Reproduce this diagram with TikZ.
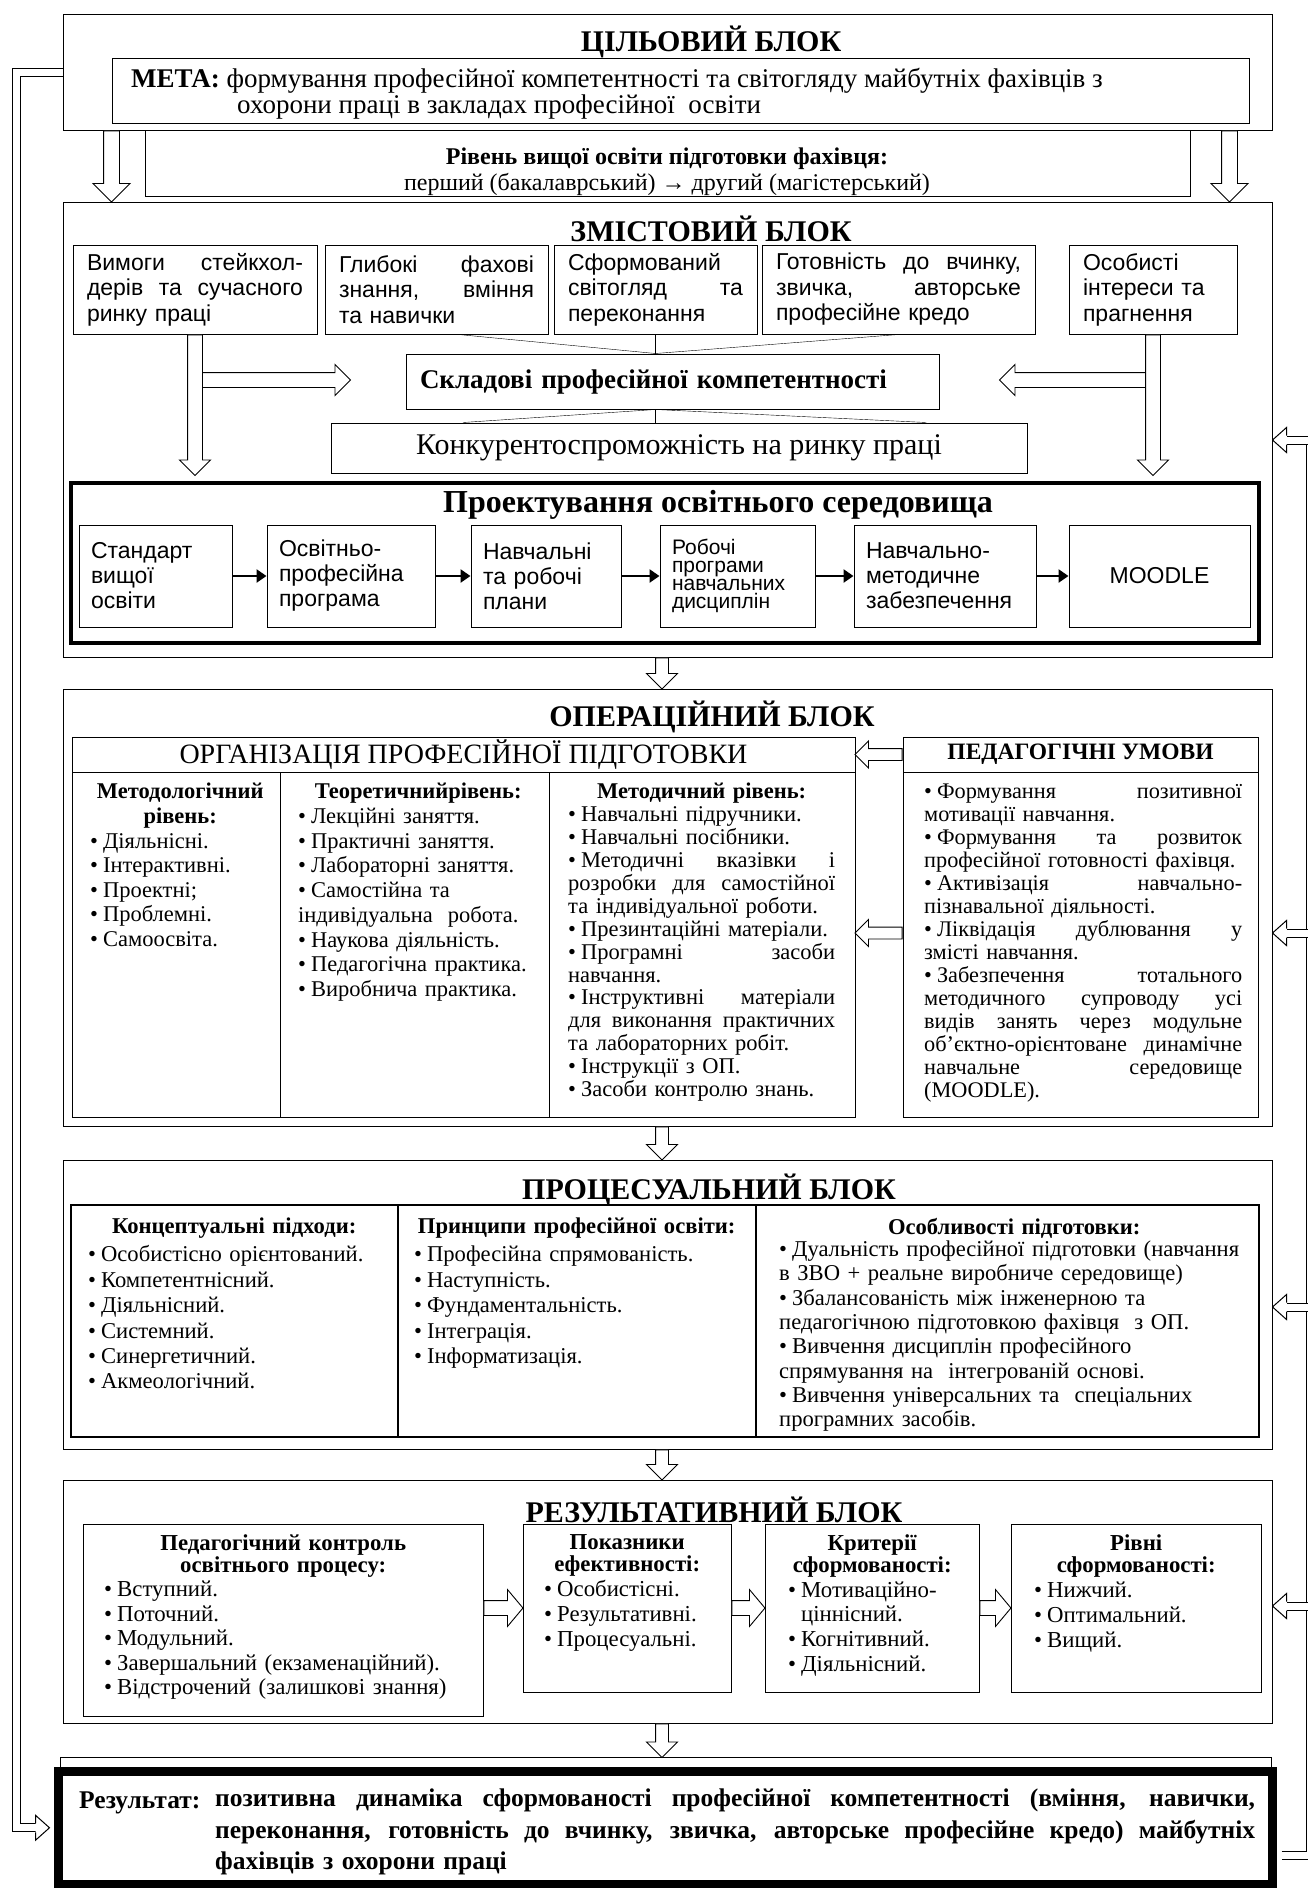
\documentclass[tikz,border=0pt]{standalone}
\usepackage{fontspec}
\setmainfont{Liberation Serif}
\setsansfont{Liberation Sans}
\usepackage{tikz}
\usetikzlibrary{shapes.arrows,arrows.meta,calc,positioning}
\setlength{\parindent}{0pt}

\newcommand\fsz[2]{\fontsize{#1}{#2}\selectfont}
\newcommand\jl[1]{\leavevmode\hbox to \hsize{\spaceskip=.25em plus 1fil\relax #1}}
\newcommand\cl[1]{\makebox[\hsize][c]{#1}}
\newcommand\bu{•\kern5pt}
\newcommand\hollow[3][harrow]{%
  \path let \p1=#2, \p2=#3, \n1={atan2(\y2-\y1,\x2-\x1)}, \n2={veclen(\x2-\x1,\y2-\y1)} in
    node[#1, minimum height=\n2, rotate=\n1, anchor=tail] at (\p1) {};}
\newcommand\headleft[1]{\draw[fill=white, line width=1pt] ($#1+(14,-4.5)$) -- ++(0,-8) -- #1 -- ++(14,12.5) -- ++(0,-8);}
\newcommand\headright[1]{\draw[fill=white, line width=1pt] ($#1+(-14,-4.5)$) -- ++(0,-8) -- #1 -- ++(-14,12.5) -- ++(0,-8);}

\begin{document}
\begin{tikzpicture}[x=1pt, y=-1pt,
  blk/.style={draw, line width=1pt, inner sep=0pt},
  bx/.style={draw, line width=1pt, inner sep=0pt},
  ttl/.style={inner sep=0pt, font=\fsz{30}{32}\bfseries},
  txt/.style={inner sep=0pt, anchor=north west, align=left},
  sbx/.style={bx, align=left, inner xsep=14pt, minimum height=89pt, font=\sffamily\fsz{23}{25.5}},
  cbx/.style={bx, align=left, inner xsep=12pt, minimum height=102pt, font=\sffamily\fsz{23}{25}},
  harrow/.style={single arrow, draw, fill=white, line width=0.9pt, inner sep=0pt, text depth=0pt,
    text height=12pt, minimum width=30pt, single arrow head extend=9pt},
  bigarrow/.style={harrow, text height=15pt, minimum width=36pt, single arrow head extend=10.5pt},
  sidearrow/.style={harrow, text height=14pt, minimum width=30pt, single arrow head extend=8pt},
  smallarrow/.style={harrow, text height=11pt, minimum width=26pt, single arrow head extend=7.5pt},
  resarrow/.style={harrow, text height=14pt, minimum width=36pt, single arrow head extend=11pt, single arrow tip angle=100},
  chainarrow/.style={line width=2.5pt, -{Triangle[length=10pt, width=13pt]}},
  shaft/.style={double, double distance=7pt, line width=1pt}
]
\fill[white] (0,0) rectangle (1307,1888);
\useasboundingbox (0,0) rectangle (1307,1888);

% goal block
\node[blk, minimum width=1209pt, minimum height=116pt] (goal) at (667.5,72) {};
\node[ttl] (goalT) at (711,42) {ЦІЛЬОВИЙ БЛОК};
\node[bx, minimum width=1137pt, minimum height=65pt] (meta) at (680.5,90.5) {};
\node[txt, font=\fsz{27}{24}] (metaT) at (131,68) {\textbf{МЕТА:} формування професійної компетентності та світогляду майбутніх фахівців з\\\hspace*{106pt}охорони праці в закладах професійної\ \ освіти};
\node[bx, minimum width=1045pt, minimum height=66pt] (level) at (667.5,163) {};
\node[inner sep=0pt, align=center, font=\fsz{24}{26}] (levelT) at (667,172) {\textbf{Рівень вищої освіти підготовки фахівця:}\\перший (бакалаврський) → другий (магістерський)};

% content block
\node[blk, minimum width=1209pt, minimum height=455pt] (content) at (667.5,429.5) {};
\node[ttl] (contentT) at (711,229) {ЗМІСТОВИЙ БЛОК};
\node[sbx, text width=216pt] (req) at (195,289.5) {\jl{Вимоги стейкхол-}\\\jl{дерів та сучасного}\\ринку праці};
\node[sbx, text width=195pt] (know) at (436.5,289.5) {\jl{Глибокі фахові}\\\jl{знання, вміння}\\та навички};
\node[sbx, text width=175pt] (view) at (655.5,289.5) {Сформований\\\jl{світогляд та}\\переконання};
\node[sbx, text width=245pt] (ready) at (898.5,289.5) {\jl{Готовність до вчинку,}\\\jl{звичка, авторське}\\професійне кредо};
\node[sbx, text width=140pt] (pers) at (1153,289.5) {Особисті\\інтереси та\\прагнення};
\node[bx, minimum width=533pt, minimum height=55pt, text width=505pt, inner xsep=14pt, align=left, font=\fsz{27}{28}\bfseries] (comp) at (672.5,381.5) {Складові професійної компетентності};
\node[bx, minimum width=696pt, minimum height=50pt, font=\fsz{30}{30}] (market) at (679,448) {Конкурентоспроможність на ринку праці};

\draw ($(know.south)+(22,0)$) -- (view.south |- comp.north);
\draw (view.south) -- (view.south |- comp.north);
\draw (ready.south) -- (view.south |- comp.north);
\draw (view.south |- comp.south) -- ($(market.north west)!0.19!(market.north east)$);
\draw (view.south |- comp.south) -- (view.south |- market.north);
\draw (view.south |- comp.south) -- ($(market.north west)!0.855!(market.north east)$);

\node[bx, line width=4pt, minimum width=1188pt, minimum height=160pt] (design) at (665,563) {};
\node[inner sep=0pt, font=\fsz{32}{34}\bfseries] (designT) at (718,505) {Проектування освітнього середовища};
\node[cbx, text width=129pt] (std) at (155.5,576) {Стандарт\\вищої\\освіти};
\node[cbx, text width=144pt] (opp) at (351,576) {Освітньо-\\професійна\\програма};
\node[cbx, text width=126pt] (plans) at (546,576) {Навчальні\\та робочі\\плани};
\node[cbx, text width=131pt, font=\sffamily\fsz{21}{18}] (progs) at (737.5,576) {Робочі\\програми\\навчальних\\дисциплін};
\node[cbx, text width=158pt] (supp) at (945,576) {Навчально-\\методичне\\забезпечення};
\node[cbx, text width=157pt, align=center] (moodle) at (1159.5,576) {MOODLE};
\foreach \a/\b in {std/opp, opp/plans, plans/progs, progs/supp, supp/moodle}
  \draw[chainarrow] (\a) -- (\b);

\coordinate (lh) at (350,380);
\coordinate (rh) at (1000,380);
\hollow[sidearrow]{(lh -| req.south)}{(lh)}
\hollow[sidearrow]{(rh -| pers.south)}{(rh)}
\hollow[sidearrow]{(req.south)}{($(req.south |- design.north)+(0,-6)$)}
\hollow[sidearrow]{(pers.south)}{($(pers.south |- design.north)+(0,-6)$)}

% operational block
\node[blk, minimum width=1209pt, minimum height=437pt] (oper) at (667.5,907.5) {};
\node[ttl] (operT) at (712,717) {ОПЕРАЦІЙНИЙ БЛОК};
\node[bx, minimum width=783pt, minimum height=380pt] (org) at (463.5,927) {};
\node[bx, minimum width=783pt, minimum height=35pt, font=\fsz{28}{28}] (orgH) at (463.5,754.5) {ОРГАНІЗАЦІЯ ПРОФЕСІЙНОЇ ПІДГОТОВКИ};
\coordinate (c1) at (280,0);
\coordinate (c2) at (549,0);
\draw (orgH.south -| c1) -- (org.south -| c1);
\draw (orgH.south -| c2) -- (org.south -| c2);
\node[txt, text width=180pt, font=\fsz{22.5}{24.6}] (m1) at (90,783) {\cl{\bfseries Методологічний}\\\cl{\bfseries рівень:}\\\bu Діяльнісні.\\\bu Інтерактивні.\\\bu Проектні;\\\bu Проблемні.\\\bu Самоосвіта.};
\node[txt, text width=240pt, font=\fsz{22.5}{24.7}] (m2) at (298,783) {\cl{\bfseries Теоретичнийрівень:}\\\bu Лекційні заняття.\\\bu Практичні заняття.\\\bu Лабораторні заняття.\\\bu Самостійна та\\індивідуальна\ \ робота.\\\bu Наукова діяльність.\\\bu Педагогічна практика.\\\bu Виробнича практика.};
\node[txt, text width=267pt, font=\fsz{22.5}{22.9}] (m3) at (568,783) {\cl{\bfseries Методичний рівень:}\\\bu Навчальні підручники.\\\bu Навчальні посібники.\\\jl{\bu Методичні вказівки і}\\\jl{розробки для самостійної}\\та індивідуальної роботи.\\\bu Презинтаційні матеріали.\\\jl{\bu Програмні засоби}\\навчання.\\\jl{\bu Інструктивні матеріали}\\\jl{для виконання практичних}\\та лабораторних робіт.\\\bu Інструкції з ОП.\\\bu Засоби контролю знань.};

\node[bx, minimum width=355pt, minimum height=380pt] (cond) at (1080.5,927) {};
\node[bx, minimum width=355pt, minimum height=35pt, font=\fsz{23.5}{24}\bfseries] (condH) at (1080.5,754.5) {ПЕДАГОГІЧНІ УМОВИ};
\node[txt, text width=318pt, font=\fsz{22.3}{23}] (condT) at (924,784) {\jl{\bu Формування позитивної}\\мотивації навчання.\\\jl{\bu Формування та розвиток}\\професійної готовності фахівця.\\\jl{\bu Активізація навчально-}\\пізнавальної діяльності.\\\jl{\bu Ліквідація дублювання у}\\змісті навчання.\\\jl{\bu Забезпечення тотального}\\\jl{методичного супроводу усі}\\\jl{видів занять через модульне}\\\jl{об’єктно-орієнтоване динамічне}\\\jl{навчальне середовище}\\(MOODLE).};
\hollow[smallarrow]{(condH.west)}{(condH.west -| org.east)}
\hollow[smallarrow]{($(cond.west)+(0,6)$)}{($(cond.west -| org.east)+(0,6)$)}

% processual block
\node[blk, minimum width=1209pt, minimum height=289pt] (proc) at (667.5,1304.5) {};
\node[ttl] (procT) at (709,1190) {ПРОЦЕСУАЛЬНИЙ БЛОК};
\node[bx, line width=2pt, minimum width=1188pt, minimum height=232pt] (ptab) at (665,1321) {};
\coordinate (c3) at (398,0);
\coordinate (c4) at (756,0);
\draw[line width=1.5pt] (ptab.north -| c3) -- (ptab.south -| c3);
\draw[line width=1.5pt] (ptab.north -| c4) -- (ptab.south -| c4);
\node[txt, text width=292pt, font=\fsz{22.6}{25.4}] (p1) at (88,1218) {\cl{\bfseries Концептуальні підходи:}\\[2.6pt]\bu Особистісно орієнтований.\\\bu Компетентнісний.\\\bu Діяльнісний.\\\bu Системний.\\\bu Синергетичний.\\\bu Акмеологічний.};
\node[txt, text width=325pt, font=\fsz{22.6}{25.4}] (p2) at (414,1218) {\cl{\bfseries Принципи професійної освіти:}\\[2.6pt]\bu Професійна спрямованість.\\\bu Наступність.\\\bu Фундаментальність.\\\bu Інтеграція.\\\bu Інформатизація.};
\node[txt, text width=470pt, font=\fsz{22.6}{24.3}] (p3) at (779,1218) {\cl{\bfseries Особливості підготовки:}\\[-2pt]\bu Дуальність професійної підготовки (навчання\\в ЗВО + реальне виробниче середовище)\\\bu Збалансованість між інженерною та\\педагогічною підготовкою фахівця\ \ з ОП.\\\bu Вивчення дисциплін професійного\\спрямування на\ \ інтегрованій основі.\\\bu Вивчення універсальних та\ \ спеціальних\\програмних засобів.};

% result block
\node[blk, minimum width=1209pt, minimum height=243pt] (res) at (667.5,1601.5) {};
\node[ttl] (resT) at (714,1510) {РЕЗУЛЬТАТИВНИЙ БЛОК};
\node[bx, minimum width=400pt, minimum height=192pt] (ctrl) at (283,1620) {};
\node[bx, minimum width=208pt, minimum height=168pt] (ind) at (627,1608) {};
\node[bx, minimum width=214pt, minimum height=168pt] (crit) at (872,1608) {};
\node[bx, minimum width=250pt, minimum height=168pt] (lvl) at (1136,1608) {};
\node[txt, text width=358pt, font=\fsz{22.8}{22}] (ctrlT) at (104,1534) {\cl{\bfseries Педагогічний контроль}\\\cl{\bfseries освітнього процесу:}\\[2.5pt]\bu Вступний.\\[2.5pt]\bu Поточний.\\[2.5pt]\bu Модульний.\\[2.5pt]\bu Завершальний (екзаменаційний).\\[2.5pt]\bu Відстрочений (залишкові знання)};
\node[txt, text width=166pt, font=\fsz{22.8}{22}] (indT) at (544,1534) {\cl{\bfseries Показники}\\\cl{\bfseries ефективності:}\\[3pt]\bu Особистісні.\\[3pt]\bu Результативні.\\[3pt]\bu Процесуальні.};
\node[txt, text width=168pt, font=\fsz{22.8}{22}] (critT) at (788,1534) {\cl{\bfseries Критерії}\\\cl{\bfseries сформованості:}\\[3pt]\bu Мотиваційно-\\[2pt]\hphantom{\bu}ціннісний.\\[3pt]\bu Когнітивний.\\[3pt]\bu Діяльнісний.};
\node[txt, text width=204pt, font=\fsz{22.8}{22}] (lvlT) at (1034,1534) {\cl{\bfseries Рівні}\\\cl{\bfseries сформованості:}\\[3pt]\bu Нижчий.\\[3pt]\bu Оптимальний.\\[3pt]\bu Вищий.};
\hollow[resarrow]{(ind.west -| ctrl.east)}{(ind.west)}
\hollow[resarrow]{(ind.east)}{(crit.west)}
\hollow[resarrow]{(crit.east)}{(lvl.west)}

% arrows between blocks
\coordinate (mid) at (662,0);
\hollow[bigarrow]{($(goal.south west)+(49,0)$)}{($(content.north west)+(49,0)$)}
\hollow[bigarrow]{($(goal.south east)+(-43,0)$)}{($(content.north east)+(-43,0)$)}
\hollow{(content.south -| mid)}{(oper.north -| mid)}
\hollow{(oper.south -| mid)}{(proc.north -| mid)}
\hollow{(proc.south -| mid)}{(res.north -| mid)}

% final result
\node[bx, minimum width=1211pt, minimum height=143pt, anchor=north] (finbg) at (665.5,1757) {};
\hollow{(res.south -| mid)}{(finbg.north -| mid)}

\coordinate (fbL) at (16.5,0);
\coordinate (fbR) at (1310.5,0);
\coordinate (r1) at (1310.5,440);
\coordinate (r2) at (1310.5,933);
\coordinate (r3) at (1310.5,1307);
\coordinate (r4) at (1310.5,1606);
\node[bx, line width=9pt, fill=white, minimum width=1214pt, minimum height=112.5pt] (final) at (665.5,1827.75) {};
\draw[shaft] (goal.west) -- (goal.west -| fbL) -- (fbL |- final.west) -- ($(final.west)+(-18.5,0)$);
\headright{($(final.west)+(-4.5,0)$)}
\draw[shaft] ($(final.east)+(4.5,28)$) -- ($(fbR |- final.east)+(0,28)$) -- ($(r1)+(0,-4.5)$);
\foreach \r/\b in {r1/content, r2/oper, r3/proc, r4/res} {
  \draw[shaft] (\r) -- ($(\r -| \b.east)+(14,0)$);
  \headleft{(\r -| \b.east)}
}
\node[anchor=base west, inner sep=0pt, font=\fsz{25.5}{31}\bfseries] (finL) at (79,1808) {Результат:};
\node[txt, text width=1040pt, font=\fsz{25.5}{31.5}\bfseries] (finT) at (215,1789) {\jl{позитивна динаміка сформованості професійної компетентності (вміння, навички,}\\\jl{переконання, готовність до вчинку, звичка, авторське професійне кредо) майбутніх}\\фахівців з охорони праці};
\end{tikzpicture}
\end{document}
